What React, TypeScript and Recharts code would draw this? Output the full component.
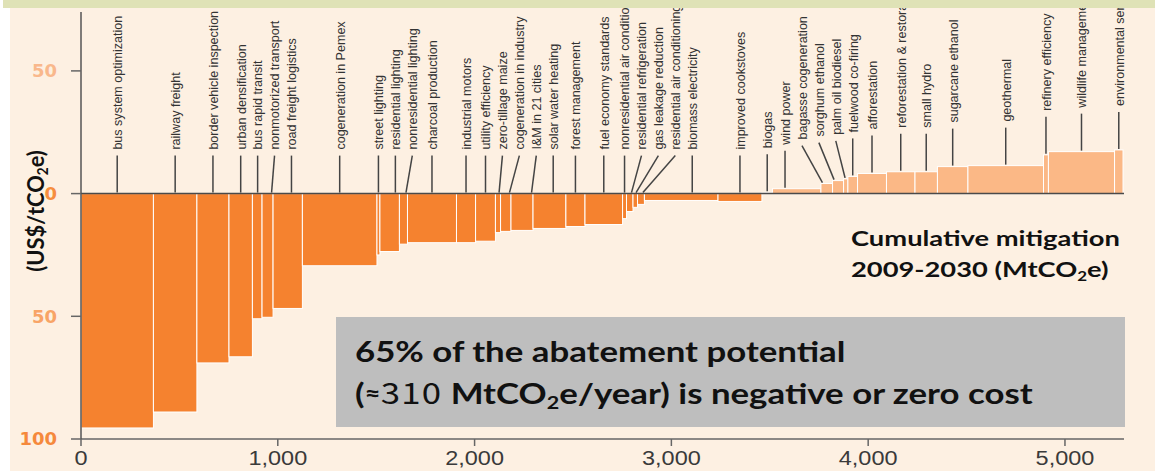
import { ComposedChart, XAxis, YAxis, ReferenceArea, ReferenceLine, Line } from "recharts";

// abatement measures, left to right along the curve
const measures = [
  "bus system optimization", "railway freight", "border vehicle inspection", "urban densification",
  "bus rapid transit", "nonmotorized transport", "road freight logistics", "cogeneration in Pemex",
  "street lighting", "residential lighting", "nonresidential lighting", "charcoal production",
  "industrial motors", "utility efficiency", "zero-tillage maize", "cogeneration in industry",
  "I&M in 21 cities", "solar water heating", "forest management", "fuel economy standards",
  "nonresidential air conditioning", "residential refrigeration", "gas leakage reduction",
  "residential air conditioning", "biomass electricity", "improved cookstoves", "biogas",
  "wind power", "bagasse cogeneration", "sorghum ethanol", "palm oil biodiesel", "fuelwood co-firing",
  "afforestation", "reforestation & restoration", "small hydro", "sugarcane ethanol", "geothermal",
  "refinery efficiency", "wildlife management", "environmental services",
];

// mitigation 2009-2030 (MtCO2e), bar widths
const abatement = [
  368, 221, 163, 119, 49, 56, 149, 379, 15, 99, 41, 249, 97, 101, 26, 53, 112, 167, 97, 191,
  20, 33, 23, 35, 374, 223, 54, 246, 59, 56, 22, 49, 147, 145, 114, 155, 384, 25, 336, 43,
];

// cost (US$/tCO2e), bar heights
const costs = [
  -95.5, -89, -69, -66.5, -51, -50.4, -46.8, -29.4, -25, -23.6, -20.6, -20, -20, -19.4, -15.9,
  -15.4, -15, -14.2, -13.4, -12.6, -10.2, -7.3, -5.6, -4.4, -2.8, -3.2, 0.5, 2, 4.1, 5.3, 6, 7,
  8.2, 8.9, 8.9, 11, 11.4, 15.8, 17.1, 17.8,
];

const xTicks = [0, 1000, 2000, 3000, 4000, 5000];
const yTicks = [50, 0, -50, -100];
const yTickColors: Record<number, string> = { 50: "#F9B88C", 0: "#F68E3F", [-50]: "#F8A466", [-100]: "#F5893C" };

const NEG = "#F5822F";
const POS = "#FBB886";
const LABEL_GAP = 86; // min spacing of leader labels, in MtCO2e

const rows = (() => {
  let acc = 0;
  return measures.map((name, i) => {
    const start = acc;
    acc += abatement[i];
    return { name, start, end: acc, mid: (start + acc) / 2, cost: costs[i] };
  });
})();

// spread labels: negative ones pushed right, positive ones pulled left
const labelX = rows.map((r) => r.mid);
for (let i = 1; i < rows.length; i++)
  if (rows[i].cost < 0) labelX[i] = Math.max(labelX[i], labelX[i - 1] + LABEL_GAP);
for (let i = rows.length - 2; i >= 0; i--)
  if (rows[i].cost >= 0) labelX[i] = Math.min(labelX[i], labelX[i + 1] - LABEL_GAP);

const Segment = (props: any) => {
  const { x, y, width, height, row, lx } = props;
  const perUnit = width / (row.end - row.start);
  const px = x + width / 2 + (lx - row.mid) * perUnit;
  const bottom = Math.min(150, y - 44);
  const endX = Math.min(Math.max(px, x + 1.5), x + width - 1.5);
  return (
    <g>
      <rect x={x} y={y} width={width} height={height} fill={row.cost < 0 ? NEG : POS} stroke="#fff" strokeWidth={1} />
      <line x1={px} y1={bottom + 6} x2={endX} y2={y - 1} stroke="#444" strokeWidth={1.5} />
      <text
        transform={`translate(${px},${bottom}) rotate(-90) scale(0.93,1)`}
        dy="0.36em"
        fontSize={13.5}
        fontFamily="'Liberation Sans', Arial, sans-serif"
        fill="#333"
      >
        {row.name}
      </text>
    </g>
  );
};

const YTick = ({ x, y, payload }: any) => (
  <text x={x} y={y} dy="0.36em" textAnchor="end" fontSize={18} fontWeight="bold"
    fontFamily="'DejaVu Sans', Verdana, sans-serif" fill={yTickColors[payload.value]}>
    {Math.abs(payload.value)}
  </text>
);

const XTick = ({ x, y, payload }: any) => (
  <text transform={`translate(${x},${y + 17}) scale(1.12,1)`} textAnchor="middle" fontSize={21}
    fontFamily="'Liberation Sans', Arial, sans-serif" fill="#3a3a3a">
    {payload.value.toLocaleString("en-US")}
  </text>
);

const sub = { fontSize: "0.62em", verticalAlign: "-0.3em" };
const bold = { fontFamily: "Lato, 'Open Sans', sans-serif", fontWeight: 700, color: "#111" };

export default function App() {
  return (
    <div style={{ position: "absolute", left: 0, top: 0, width: 1155, height: 471, background: "#fff", overflow: "hidden" }}>
      <div style={{ position: "absolute", left: 10, top: 0, width: 1145, height: 471, background: "#FDF0E2" }} />
      <div style={{ position: "absolute", left: 0, top: 0 }}>
        <ComposedChart width={1155} height={471} data={rows} margin={{ top: 12, right: 31, bottom: 0, left: 0 }}>
          <XAxis dataKey="mid" type="number" domain={[0, 5300]} ticks={xTicks} tick={<XTick />}
            height={32} tickSize={7} axisLine={{ stroke: "#666", strokeWidth: 1.5 }} tickLine={{ stroke: "#666", strokeWidth: 1.5 }} />
          <YAxis type="number" domain={[-100, 74]} ticks={yTicks} tick={<YTick />} width={81}
            tickSize={10} tickMargin={14} axisLine={{ stroke: "#555", strokeWidth: 1.5 }} tickLine={{ stroke: "#666", strokeWidth: 1.5 }} />
          {rows.map((r, i) => (
            <ReferenceArea key={r.name} x1={r.start} x2={r.end} y1={0} y2={r.cost}
              shape={(p: any) => <Segment {...p} row={r} lx={labelX[i]} />} />
          ))}
          <ReferenceLine y={0} stroke="#4a4a4a" strokeWidth={1.5} />
          <Line dataKey="cost" stroke="none" dot={false} activeDot={false} legendType="none" isAnimationActive={false} />
        </ComposedChart>
      </div>
      <div style={{ position: "absolute", left: 3, top: 0, width: 1152, height: 8, background: "#DFE2B6" }} />
      <div style={{ ...bold, position: "absolute", left: 36, top: 211, fontSize: 23, whiteSpace: "nowrap", transform: "translate(-50%,-50%) rotate(-90deg) scale(0.95,1)" }}>
        (US$/tCO<span style={sub}>2</span>e)
      </div>
      <div style={{ ...bold, position: "absolute", left: 851, top: 222, fontSize: 21, lineHeight: "31px", whiteSpace: "nowrap", transform: "scale(1.3,1)", transformOrigin: "0 0" }}>
        Cumulative mitigation<br />2009-2030 (MtCO<span style={sub}>2</span>e)
      </div>
      <div style={{ position: "absolute", left: 336, top: 317, width: 789, height: 110, background: "#BEBEBE" }} />
      <div style={{ ...bold, position: "absolute", left: 355, top: 330, fontSize: 29, lineHeight: "41px", whiteSpace: "nowrap", transform: "scale(1.2,1)", transformOrigin: "0 0" }}>
        65% of the abatement potential<br />
        (<span style={{ fontSize: "0.8em", verticalAlign: "0.1em" }}>≈</span><span style={{ fontWeight: 400, fontFamily: "'Noto Sans CJK JP', sans-serif", letterSpacing: "1px" }}>310</span> MtCO<span style={sub}>2</span>e/year) is negative or zero cost
      </div>
    </div>
  );
}
